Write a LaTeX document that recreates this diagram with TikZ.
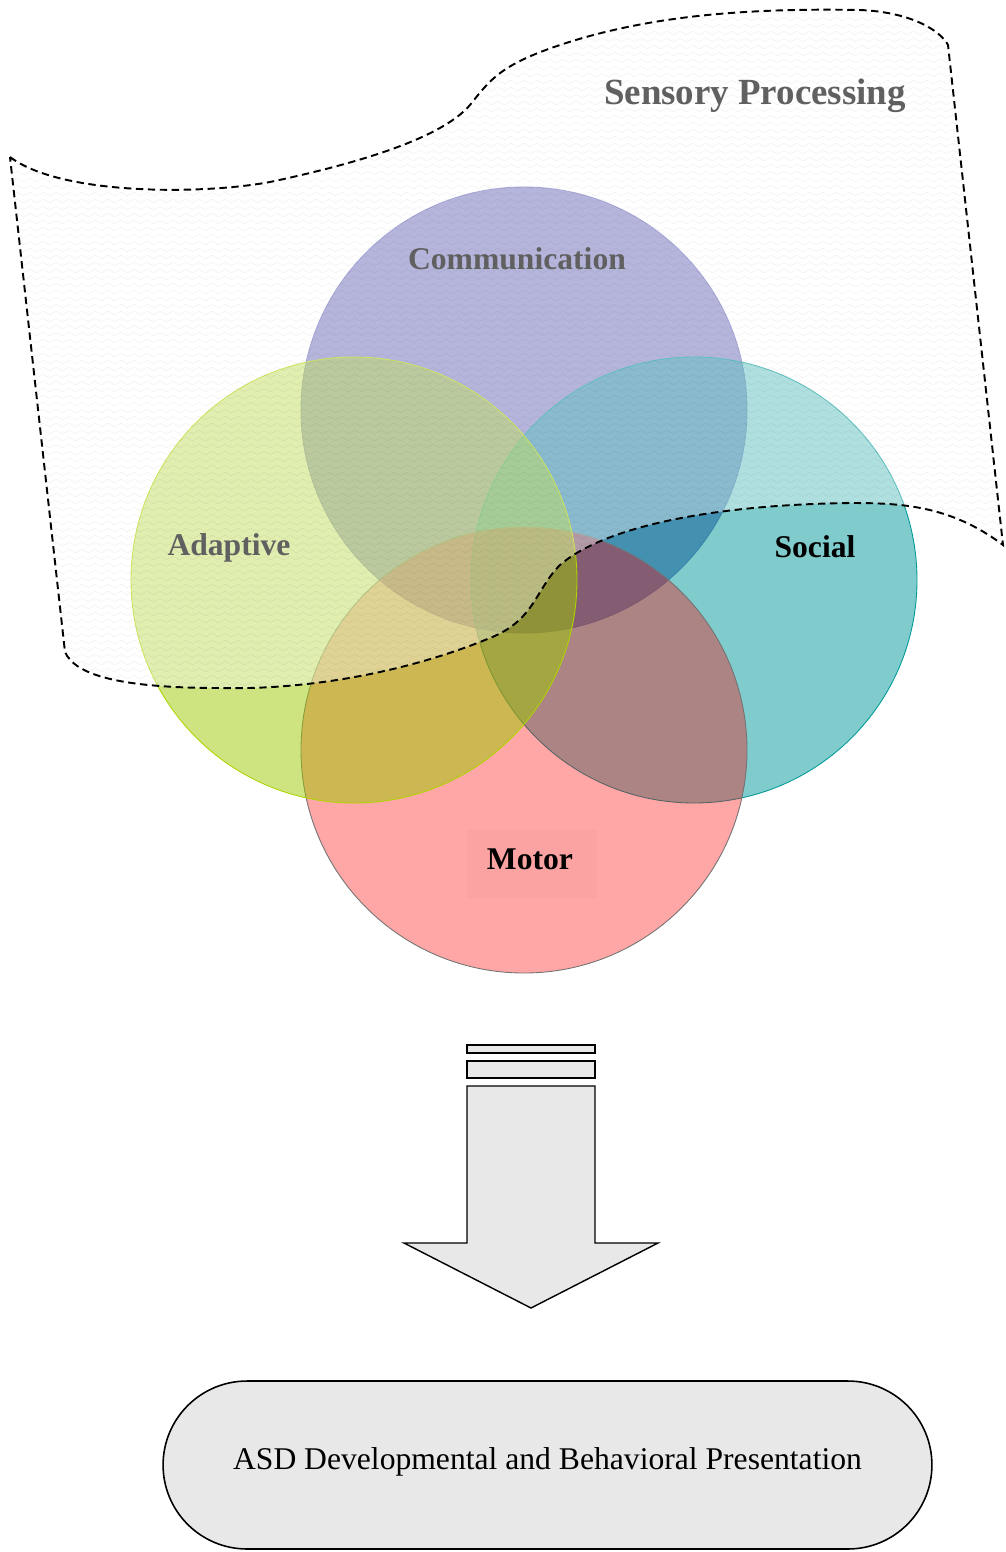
\documentclass[tikz,border=0pt]{standalone}
\usepackage{fontspec}
\setmainfont{Liberation Serif}
\usepackage{tikz}
\usepackage{xcolor}
\usetikzlibrary{decorations.pathmorphing}

\definecolor{commcol}{RGB}{17,17,145}
\definecolor{adaptcol}{RGB}{155,201,1}
\definecolor{socialcol}{RGB}{1,153,153}
\definecolor{motorcol}{RGB}{255,0,0}
\definecolor{boxgray}{RGB}{232,232,232}

\def\bannerpath{(10,157) .. controls (60,195) and (200,195) .. (270,182)
  .. controls (350,165) and (440,140) .. (470,105)
  .. controls (490,80) and (500,65) .. (560,45)
  .. controls (650,15) and (750,8) .. (860,10)
  .. controls (910,12) and (940,30) .. (948,45)
  -- (1003,545)
  .. controls (950,505) and (900,503) .. (850,503)
  .. controls (700,505) and (600,530) .. (560,565)
  .. controls (535,590) and (535,620) .. (490,638)
  .. controls (400,675) and (300,690) .. (220,688)
  .. controls (120,688) and (75,675) .. (65,652) -- cycle}

\begin{document}
\begin{tikzpicture}[x=0.02cm, y=-0.02cm,
  lbl/.style={font=\bfseries\fontsize{18}{20}\selectfont, text=black},
  wave/.style={black, draw opacity=0.06, line width=0.3pt, decorate,
    decoration={snake, segment length=0.26cm, amplitude=0.035cm}},
  blockbox/.style={draw=black, line width=0.8pt, fill=boxgray}]
\useasboundingbox (0,0) rectangle (1005,1552);
\filldraw[fill=commcol, fill opacity=0.5, draw=commcol!60!white, line width=0.5pt] (524,410) circle (223);
\filldraw[fill=socialcol, fill opacity=0.5, draw=socialcol, line width=0.5pt] (694,580) circle (223);
\filldraw[fill=motorcol, fill opacity=0.35, draw=black!55, line width=0.5pt] (524,750) circle (223);
\filldraw[fill=adaptcol, fill opacity=0.5, draw=adaptcol!80!yellow, line width=0.5pt] (354,580) circle (223);
\fill[black, opacity=0.015] (467,830) rectangle (597,898);
\node[lbl] (comm) at (517,259) {Communication};
\node[lbl] (adapt) at (229,548) {Adaptive};
\node[lbl] (social) at (815,547) {Social};
\node[lbl] (motor) at (530,859) {Motor};
\node[lbl, font=\bfseries\fontsize{21}{24}\selectfont] (sensory) at (755,96) {Sensory Processing};
\fill[white, opacity=0.38] \bannerpath;
\begin{scope}
\clip \bannerpath;
\foreach \y in {5,12,...,700}
  \draw[wave] (0,\y) -- (1010,\y);
\end{scope}
\draw[line width=1.1pt, dash pattern=on 4.2pt off 2.6pt] \bannerpath;
\draw[blockbox] (467,1045) rectangle (595,1053);
\draw[blockbox] (467,1061) rectangle (595,1078);
\draw[blockbox, line join=miter] (467,1086) -- (595,1086) -- (595,1243) -- (658,1243)
  -- (531,1308) -- (404,1243) -- (467,1243) -- cycle;
\node[blockbox, line width=0.9pt, rounded corners=1.68cm, minimum width=15.38cm,
  minimum height=3.36cm, text height=0.45cm, text depth=0.27cm,
  font=\fontsize{18}{20}\selectfont] (asd) at (547.5,1465)
  {ASD Developmental and Behavioral Presentation};
\end{tikzpicture}
\end{document}
